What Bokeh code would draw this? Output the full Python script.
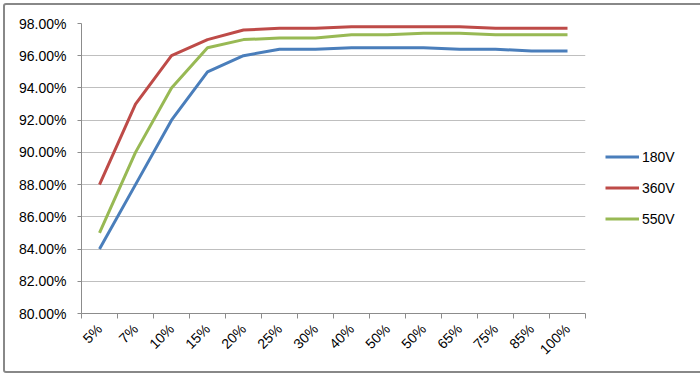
import math
from bokeh.plotting import figure
from bokeh.models import FixedTicker, PrintfTickFormatter, Legend, LegendItem, Range1d
from bokeh.embed import file_html
from bokeh.resources import INLINE

loads = ["5%", "7%", "10%", "15%", "20%", "25%", "30%", "40%", "50%", "50%", "65%", "75%", "85%", "100%"]
eff_180 = [84.0, 88.0, 92.0, 95.0, 96.0, 96.4, 96.4, 96.5, 96.5, 96.5, 96.4, 96.4, 96.3, 96.3]
eff_360 = [88.0, 93.0, 96.0, 97.0, 97.6, 97.7, 97.7, 97.8, 97.8, 97.8, 97.8, 97.7, 97.7, 97.7]
eff_550 = [85.0, 90.0, 94.0, 96.5, 97.0, 97.1, 97.1, 97.3, 97.3, 97.4, 97.4, 97.3, 97.3, 97.3]
series_names = ["180V", "360V", "550V"]
colors = ["#4A7EBB", "#BE4B48", "#98B954"]
y_ticks = [80, 82, 84, 86, 88, 90, 92, 94, 96, 98]

n = len(loads)
xs = [i + 0.5 for i in range(n)]
font = "Liberation Sans"

p = figure(frame_width=504, frame_height=290, output_backend="svg", toolbar_location=None,
           x_range=Range1d(0, n), y_range=Range1d(80, 98),
           min_border_left=76, min_border_right=110, min_border_top=18, min_border_bottom=58,
           margin=(3, 2, 3, 3),
           styles={"border": "2px solid #888888", "border-radius": "3px"})
p.outline_line_color = None
p.background_fill_color = "white"
p.border_fill_color = "white"

renderers = []
for vals, c in zip([eff_180, eff_360, eff_550], colors):
    r = p.line(xs, vals, line_color=c, line_width=3)
    renderers.append(r)

# x axis
p.xaxis.ticker = FixedTicker(ticks=xs, minor_ticks=list(range(n + 1)))
p.xaxis.major_label_overrides = {x: lab for x, lab in zip(xs, loads)}
p.xaxis.major_tick_out = 0
p.xaxis.major_tick_in = 0
p.xaxis.minor_tick_out = 5
p.xaxis.minor_tick_in = 0
p.xaxis.minor_tick_line_color = "#8c8c8c"
p.xaxis.axis_line_color = "#8c8c8c"
p.xaxis.major_label_orientation = math.pi / 4
p.xaxis.major_label_text_font = font
p.xaxis.major_label_text_font_size = "14px"
p.xaxis.major_label_text_color = "black"
p.xaxis.major_label_standoff = 8
p.xgrid.visible = False

# y axis
p.yaxis.ticker = FixedTicker(ticks=y_ticks)
p.yaxis.formatter = PrintfTickFormatter(format="%.2f%%")
p.yaxis.axis_line_color = "#8c8c8c"
p.yaxis.major_tick_line_color = "#8c8c8c"
p.yaxis.major_tick_out = 4
p.yaxis.major_tick_in = 0
p.yaxis.minor_tick_line_color = None
p.yaxis.major_label_text_font = font
p.yaxis.major_label_text_font_size = "14px"
p.yaxis.major_label_text_color = "black"
p.yaxis.major_label_standoff = 11
p.ygrid.grid_line_color = "#bfbfbf"
p.ygrid.grid_line_width = 1

legend = Legend(items=[LegendItem(label=nm, renderers=[r]) for nm, r in zip(series_names, renderers)],
                location="center_left", padding=0, margin=20, spacing=15,
                title=" ", title_text_font_size="14px", title_standoff=23,
                glyph_width=34, glyph_height=16, label_height=16, label_standoff=3,
                label_text_font=font, label_text_font_size="14px", label_text_color="black",
                background_fill_alpha=0, border_line_alpha=0)
p.add_layout(legend, "right")

open("out.html", "w").write(file_html(p, INLINE))
